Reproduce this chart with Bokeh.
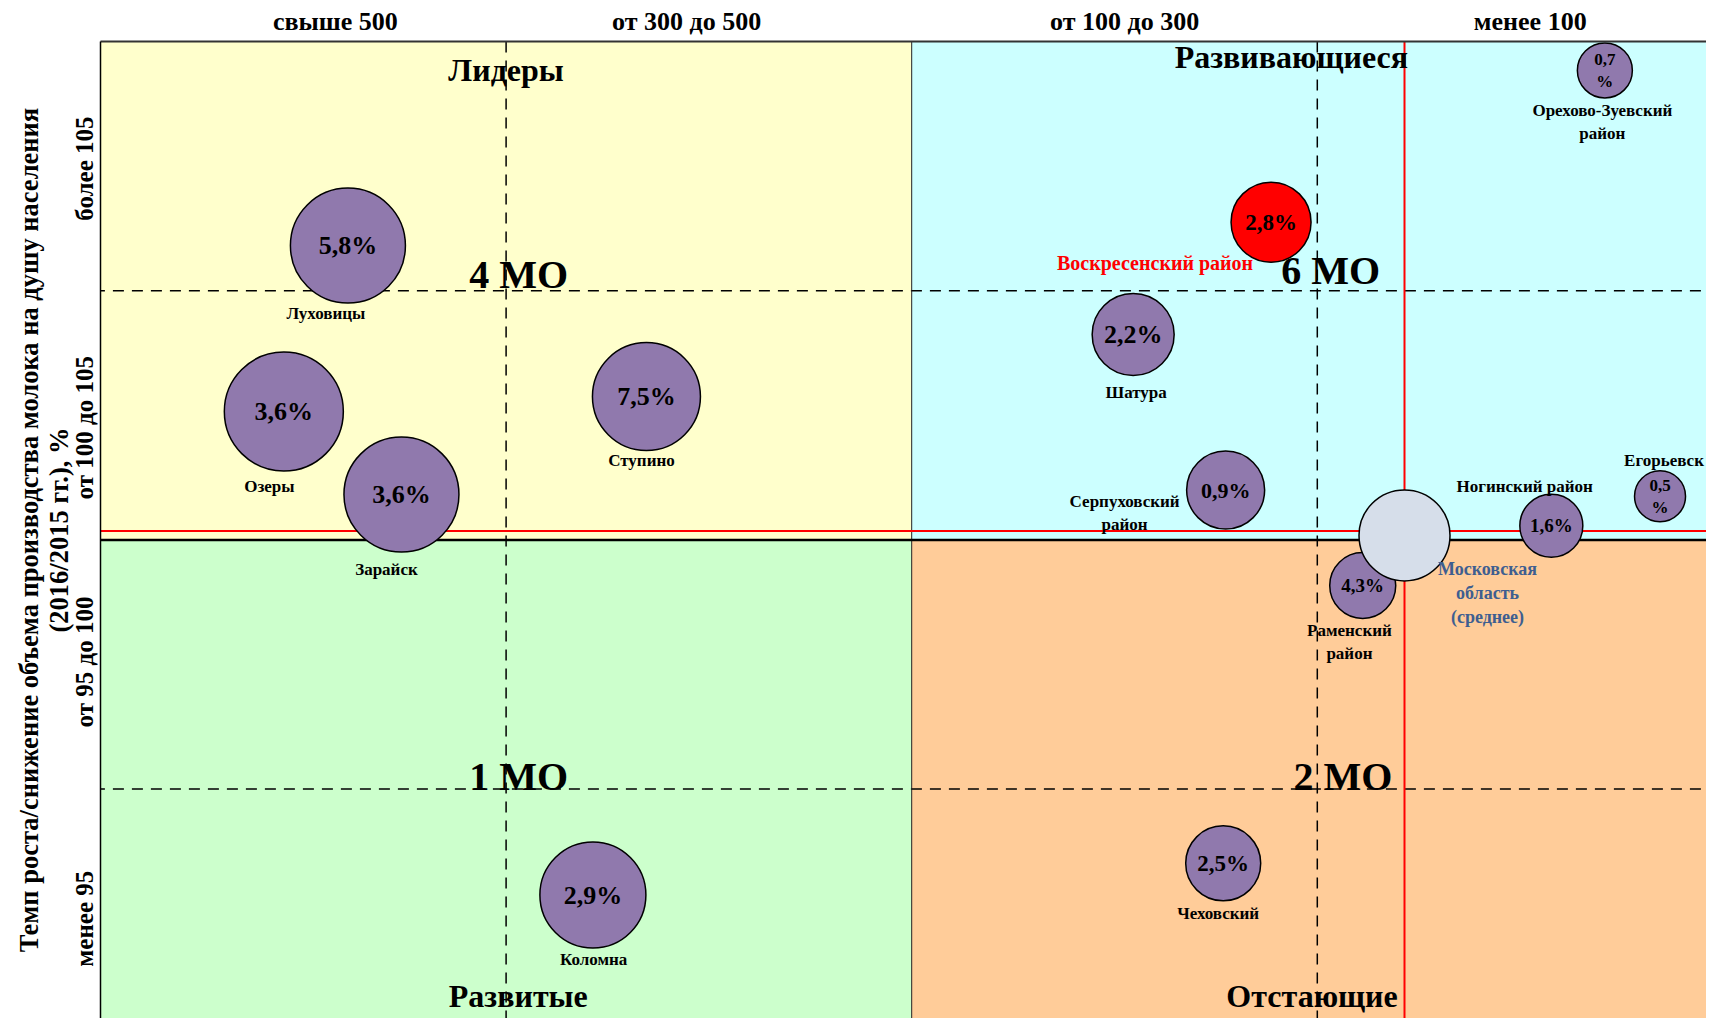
from bokeh.plotting import figure
from bokeh.models import Range1d, FixedTicker, ColumnDataSource
from bokeh.core.properties import value
from bokeh.embed import file_html
from bokeh.resources import INLINE

# ---------------- data ----------------
x_categories = ["свыше 500", "от 300 до 500", "от 100 до 300", "менее 100"]
y_categories = ["менее 95", "от 95 до 100", "от 100 до 105", "более 105"]

names = ["Луховицы", "Озеры", "Зарайск", "Ступино", "Коломна",
         "Воскресенский район", "Шатура", "Серпуховский\nрайон",
         "Орехово-Зуевский\nрайон", "Егорьевск", "Ногинский район",
         "Раменский\nрайон", "Московская\nобласть\n(среднее)", "Чеховский"]
shares = [5.8, 3.6, 3.6, 7.5, 2.9, 2.8, 2.2, 0.9, 0.7, 0.5, 1.6, 4.3, None, 2.5]
x_pos = [0.610, 0.452, 0.742, 1.346, 1.214, 2.886, 2.546, 2.774, 3.709,
         3.845, 3.577, 3.112, 3.215, 2.768]
y_pos = [3.181, 2.515, 2.182, 2.575, 0.575, 3.275, 2.824, 2.200, 3.884,
         2.175, 2.057, 1.817, 2.018, 0.702]
bubble_size = [115, 119, 115, 108, 106, 80, 82, 78, 55, 51, 63, 66, 91, 75]

avg_x = 3.215
avg_y = 2.036

quadrant_names = ["Лидеры", "Развивающиеся", "Развитые", "Отстающие"]
quadrant_counts = ["4 МО", "6 МО", "1 МО", "2 МО"]

# ---------------- layout / style ----------------
PURPLE = "#9079AD"
highlight = "Воскресенский район"
average = "Московская\nобласть\n(среднее)"

fill = []
for n in names:
    if n == highlight:
        fill.append("#FF0000")
    elif n == average:
        fill.append("#D6DEEA")
    else:
        fill.append(PURPLE)

def fmt(v, d):
    if v is None:
        return ""
    s = f"{v:.1f}".replace(".", ",")
    return s + ("\n%" if d < 56 else "%")

share_text = [fmt(v, d) for v, d in zip(shares, bubble_size)]
share_fs = ["26px", "26px", "26px", "26px", "26px", "23px", "26px", "22px",
            "17px", "17px", "19px", "19px", "17px", "23px"]
name_dx = [-22, -14.5, -15, -5, 0.7, -116, 3, -101, -2.5, 4, -26.7, -13.3, 83, -5]
name_dy = [68, 75, 75, 64, 64.5, 41, 57.7, 22.7, 51.7, -35.7, -39.6, 56.8, 57.2, 50]
name_fs = ["17px"] * len(names)
name_fs[5] = "20px"
name_fs[12] = "18px"
name_color = ["black"] * len(names)
name_color[5] = "#FF0000"
name_color[12] = "#3E5E90"

x_tick_pos = [0.579, 1.445, 2.525, 3.525]
y_tick_pos = [0.48, 1.51, 2.45, 3.49]

FONT = "Liberation Serif"

FW, FH = 1606, 977          # frame size in px
XU, YU = 405.6, 249.2       # px per column / row

# ---------------- figure ----------------
p = figure(frame_width=FW, frame_height=FH,
           x_range=Range1d(0, FW / XU), y_range=Range1d(4 - FH / YU, 4),
           x_axis_location="above", output_backend="svg", toolbar_location=None,
           min_border_left=100, min_border_top=41, min_border_right=0, min_border_bottom=0,
           background_fill_color="white", border_fill_color="white")
p.outline_line_color = None
p.grid.visible = False

# axes
xa = p.xaxis[0]
xa.ticker = FixedTicker(ticks=x_tick_pos)
xa.major_label_overrides = {t: lab for t, lab in zip(x_tick_pos, x_categories)}
xa.major_label_text_font = FONT
xa.major_label_text_font_style = "bold"
xa.major_label_text_font_size = "26px"
xa.major_label_text_color = "black"
xa.major_tick_line_color = None
xa.minor_tick_line_color = None
xa.major_tick_out = 0
xa.major_tick_in = 0
xa.major_label_standoff = 6
xa.axis_line_color = "#333333"
xa.axis_line_width = 2

ya = p.yaxis[0]
ya.ticker = FixedTicker(ticks=y_tick_pos)
ya.major_label_overrides = {t: lab for t, lab in zip(y_tick_pos, y_categories)}
ya.major_label_orientation = "vertical"
ya.major_label_text_font = FONT
ya.major_label_text_font_style = "bold"
ya.major_label_text_font_size = "25px"
ya.major_label_text_color = "black"
ya.major_tick_line_color = None
ya.minor_tick_line_color = None
ya.major_tick_out = 0
ya.major_tick_in = 0
ya.major_label_standoff = 2
ya.axis_line_color = "black"
ya.axis_line_width = 1.5
ya.axis_label = ("Темп роста/снижение объема производства молока на душу населения\n"
                 "(2016/2015 гг.), %")
ya.axis_label_text_font = FONT
ya.axis_label_text_font_style = "bold"
ya.axis_label_text_font_size = "26.5px"
ya.axis_label_text_color = "black"
ya.axis_label_text_line_height = 0.99
ya.axis_label_standoff = -5

# quadrant backgrounds
p.quad(left=[0, 2, 0, 2], right=[2, 5, 2, 5], bottom=[2, 2, -1, -1], top=[5, 5, 2, 2],
       fill_color=["#FFFFCC", "#CCFFFF", "#CCFFCC", "#FFCC99"], line_color=None)

# dashed sub-grid
p.segment(x0=[1, 3, -1, -1], y0=[-1, -1, 1, 3], x1=[1, 3, 6, 6], y1=[5, 5, 1, 3],
          line_color="black", line_width=1.5, line_dash="11 8")
# main dividers
p.segment(x0=[2], y0=[-1], x1=[2], y1=[5], line_color="#222222", line_width=1)
p.segment(x0=[-1], y0=[2], x1=[6], y1=[2], line_color="black", line_width=2.5)
# average (red) lines
p.segment(x0=[avg_x, 0], y0=[-1, avg_y], x1=[avg_x, 6], y1=[5, avg_y],
          line_color="#FF0000", line_width=2)

src = ColumnDataSource(dict(x=x_pos, y=y_pos, size=bubble_size, fill=fill,
                            share=share_text, sfs=share_fs, name=names,
                            dx=name_dx, dy=name_dy, nfs=name_fs, ncol=name_color))

p.scatter("x", "y", size="size", source=src, fill_color="fill",
          line_color="black", line_width=1.5)
p.text("x", "y", text="share", source=src, text_font=value(FONT), text_font_style="bold",
       text_font_size="sfs", text_align="center", text_baseline="middle",
       text_color="black", text_line_height=1.15)
p.text("x", "y", text="name", source=src, x_offset="dx", y_offset="dy",
       text_font=value(FONT), text_font_style="bold", text_font_size="nfs",
       text_align="center", text_baseline="middle", text_color="ncol",
       text_line_height=1.2)

# quadrant titles and counts
qx = [1.000, 2.936, 1.030, 2.987]
qy = [3.886, 3.939, 0.17, 0.17]
p.text(qx, qy, text=quadrant_names, text_font=value(FONT), text_font_style="bold",
       text_font_size="32px", text_align="center", text_baseline="middle",
       text_color="black")
cx = [1.031, 3.033, 1.031, 3.063]
cy = [3.066, 3.080, 1.049, 1.049]
p.text(cx, cy, text=quadrant_counts, text_font=value(FONT), text_font_style="bold",
       text_font_size="40px", text_align="center", text_baseline="middle",
       text_color="black")

open("out.html", "w").write(file_html(p, INLINE))
